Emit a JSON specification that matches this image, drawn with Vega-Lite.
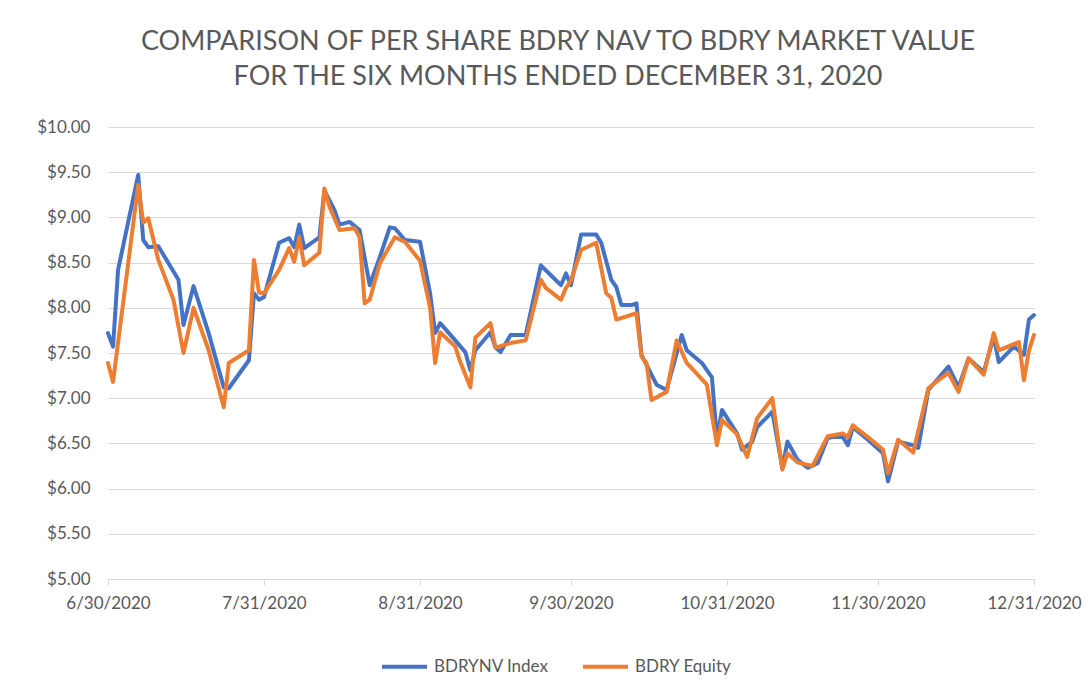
{
  "$schema": "https://vega.github.io/schema/vega-lite/v6.json",
  "width": 926,
  "height": 452,
  "autosize": {"type": "none"},
  "padding": {"left": 108, "top": 127, "right": 57, "bottom": 119},
  "background": "#ffffff",
  "config": {
    "font": "Lato",
    "view": {"stroke": null},
    "axis": {"labelFont": "Lato", "labelColor": "#595959", "labelFontSize": 17}
  },
  "title": {
    "text": ["COMPARISON OF PER SHARE BDRY NAV TO BDRY MARKET VALUE", "FOR THE SIX MONTHS ENDED DECEMBER 31, 2020"],
    "font": "Lato",
    "fontSize": 27,
    "fontWeight": "normal",
    "color": "#595959",
    "lineHeight": 35,
    "anchor": "middle",
    "dx": -13,
    "offset": 27
  },
  "datasets": {
    "nav": [
      {"d":"2020-06-30","v":7.72},{"d":"2020-07-01","v":7.57},{"d":"2020-07-02","v":8.42},{"d":"2020-07-06","v":9.47},
      {"d":"2020-07-07","v":8.75},{"d":"2020-07-08","v":8.67},{"d":"2020-07-10","v":8.68},{"d":"2020-07-14","v":8.31},
      {"d":"2020-07-15","v":7.81},{"d":"2020-07-17","v":8.24},{"d":"2020-07-20","v":7.72},{"d":"2020-07-23","v":7.12},
      {"d":"2020-07-24","v":7.11},{"d":"2020-07-28","v":7.42},{"d":"2020-07-29","v":8.16},{"d":"2020-07-30","v":8.09},
      {"d":"2020-07-31","v":8.12},{"d":"2020-08-03","v":8.72},{"d":"2020-08-05","v":8.77},{"d":"2020-08-06","v":8.67},
      {"d":"2020-08-07","v":8.92},{"d":"2020-08-08","v":8.66},{"d":"2020-08-11","v":8.78},{"d":"2020-08-12","v":9.30},
      {"d":"2020-08-14","v":9.08},{"d":"2020-08-15","v":8.92},{"d":"2020-08-17","v":8.95},{"d":"2020-08-19","v":8.86},
      {"d":"2020-08-21","v":8.25},{"d":"2020-08-23","v":8.56},{"d":"2020-08-25","v":8.89},{"d":"2020-08-26","v":8.88},
      {"d":"2020-08-28","v":8.75},{"d":"2020-08-31","v":8.73},{"d":"2020-09-02","v":8.16},{"d":"2020-09-03","v":7.72},
      {"d":"2020-09-04","v":7.83},{"d":"2020-09-07","v":7.64},{"d":"2020-09-09","v":7.51},{"d":"2020-09-10","v":7.31},
      {"d":"2020-09-11","v":7.53},{"d":"2020-09-14","v":7.73},{"d":"2020-09-15","v":7.56},{"d":"2020-09-16","v":7.51},
      {"d":"2020-09-18","v":7.70},{"d":"2020-09-21","v":7.70},{"d":"2020-09-24","v":8.47},{"d":"2020-09-26","v":8.36},
      {"d":"2020-09-28","v":8.25},{"d":"2020-09-29","v":8.38},{"d":"2020-09-30","v":8.25},{"d":"2020-10-02","v":8.81},
      {"d":"2020-10-05","v":8.81},{"d":"2020-10-06","v":8.72},{"d":"2020-10-08","v":8.31},{"d":"2020-10-09","v":8.23},
      {"d":"2020-10-10","v":8.03},{"d":"2020-10-12","v":8.03},{"d":"2020-10-13","v":8.05},{"d":"2020-10-14","v":7.48},
      {"d":"2020-10-17","v":7.15},{"d":"2020-10-19","v":7.09},{"d":"2020-10-22","v":7.70},{"d":"2020-10-23","v":7.53},
      {"d":"2020-10-26","v":7.39},{"d":"2020-10-28","v":7.23},{"d":"2020-10-29","v":6.55},{"d":"2020-10-30","v":6.87},
      {"d":"2020-11-02","v":6.61},{"d":"2020-11-03","v":6.43},{"d":"2020-11-05","v":6.52},{"d":"2020-11-06","v":6.68},
      {"d":"2020-11-09","v":6.85},{"d":"2020-11-11","v":6.23},{"d":"2020-11-12","v":6.52},{"d":"2020-11-14","v":6.32},
      {"d":"2020-11-16","v":6.23},{"d":"2020-11-18","v":6.28},{"d":"2020-11-20","v":6.56},{"d":"2020-11-21","v":6.57},
      {"d":"2020-11-23","v":6.57},{"d":"2020-11-24","v":6.48},{"d":"2020-11-25","v":6.68},{"d":"2020-11-28","v":6.54},
      {"d":"2020-12-01","v":6.39},{"d":"2020-12-02","v":6.08},{"d":"2020-12-04","v":6.52},{"d":"2020-12-07","v":6.48},
      {"d":"2020-12-08","v":6.45},{"d":"2020-12-10","v":7.09},{"d":"2020-12-12","v":7.22},{"d":"2020-12-14","v":7.35},
      {"d":"2020-12-16","v":7.12},{"d":"2020-12-18","v":7.44},{"d":"2020-12-21","v":7.29},{"d":"2020-12-23","v":7.68},
      {"d":"2020-12-24","v":7.40},{"d":"2020-12-27","v":7.57},{"d":"2020-12-29","v":7.48},{"d":"2020-12-30","v":7.87},
      {"d":"2020-12-31","v":7.92}
    ],
    "equity": [
      {"d":"2020-06-30","v":7.39},{"d":"2020-07-01","v":7.18},{"d":"2020-07-03","v":8.05},{"d":"2020-07-06","v":9.36},
      {"d":"2020-07-07","v":8.94},{"d":"2020-07-08","v":8.99},{"d":"2020-07-10","v":8.53},{"d":"2020-07-13","v":8.09},
      {"d":"2020-07-15","v":7.50},{"d":"2020-07-17","v":8.00},{"d":"2020-07-20","v":7.53},{"d":"2020-07-23","v":6.90},
      {"d":"2020-07-24","v":7.39},{"d":"2020-07-28","v":7.53},{"d":"2020-07-29","v":8.53},{"d":"2020-07-30","v":8.17},
      {"d":"2020-07-31","v":8.16},{"d":"2020-08-03","v":8.42},{"d":"2020-08-05","v":8.66},{"d":"2020-08-06","v":8.51},
      {"d":"2020-08-07","v":8.78},{"d":"2020-08-08","v":8.47},{"d":"2020-08-11","v":8.61},{"d":"2020-08-12","v":9.32},
      {"d":"2020-08-13","v":9.12},{"d":"2020-08-15","v":8.86},{"d":"2020-08-18","v":8.88},{"d":"2020-08-19","v":8.78},
      {"d":"2020-08-20","v":8.05},{"d":"2020-08-21","v":8.09},{"d":"2020-08-23","v":8.49},{"d":"2020-08-26","v":8.78},
      {"d":"2020-08-28","v":8.73},{"d":"2020-08-31","v":8.52},{"d":"2020-09-02","v":8.00},{"d":"2020-09-03","v":7.39},
      {"d":"2020-09-04","v":7.73},{"d":"2020-09-07","v":7.57},{"d":"2020-09-08","v":7.40},{"d":"2020-09-10","v":7.12},
      {"d":"2020-09-11","v":7.67},{"d":"2020-09-14","v":7.83},{"d":"2020-09-15","v":7.56},{"d":"2020-09-18","v":7.61},
      {"d":"2020-09-21","v":7.64},{"d":"2020-09-24","v":8.31},{"d":"2020-09-25","v":8.22},{"d":"2020-09-28","v":8.09},
      {"d":"2020-09-29","v":8.22},{"d":"2020-09-30","v":8.30},{"d":"2020-10-02","v":8.64},{"d":"2020-10-05","v":8.72},
      {"d":"2020-10-07","v":8.16},{"d":"2020-10-08","v":8.11},{"d":"2020-10-09","v":7.87},{"d":"2020-10-13","v":7.94},
      {"d":"2020-10-14","v":7.46},{"d":"2020-10-15","v":7.39},{"d":"2020-10-16","v":6.98},{"d":"2020-10-19","v":7.07},
      {"d":"2020-10-21","v":7.64},{"d":"2020-10-23","v":7.39},{"d":"2020-10-27","v":7.15},{"d":"2020-10-29","v":6.48},
      {"d":"2020-10-30","v":6.76},{"d":"2020-11-02","v":6.60},{"d":"2020-11-04","v":6.35},{"d":"2020-11-06","v":6.78},
      {"d":"2020-11-09","v":7.00},{"d":"2020-11-11","v":6.21},{"d":"2020-11-12","v":6.39},{"d":"2020-11-14","v":6.29},
      {"d":"2020-11-17","v":6.25},{"d":"2020-11-20","v":6.58},{"d":"2020-11-23","v":6.61},{"d":"2020-11-24","v":6.57},
      {"d":"2020-11-25","v":6.70},{"d":"2020-11-28","v":6.57},{"d":"2020-12-01","v":6.43},{"d":"2020-12-02","v":6.17},
      {"d":"2020-12-04","v":6.54},{"d":"2020-12-07","v":6.40},{"d":"2020-12-10","v":7.11},{"d":"2020-12-12","v":7.20},
      {"d":"2020-12-14","v":7.28},{"d":"2020-12-16","v":7.07},{"d":"2020-12-18","v":7.44},{"d":"2020-12-21","v":7.26},
      {"d":"2020-12-23","v":7.72},{"d":"2020-12-24","v":7.53},{"d":"2020-12-28","v":7.62},{"d":"2020-12-29","v":7.20},
      {"d":"2020-12-30","v":7.53},{"d":"2020-12-31","v":7.70}
    ]
  },
  "encoding": {
    "x": {
      "field": "d",
      "type": "temporal",
      "scale": {
        "type": "utc",
        "domain": [{"year": 2020, "month": 6, "date": 30, "utc": true}, {"year": 2020, "month": 12, "date": 31, "utc": true}]
      },
      "axis": {
        "title": null,
        "values": [
          {"year": 2020, "month": 6, "date": 30, "utc": true},
          {"year": 2020, "month": 7, "date": 31, "utc": true},
          {"year": 2020, "month": 8, "date": 31, "utc": true},
          {"year": 2020, "month": 9, "date": 30, "utc": true},
          {"year": 2020, "month": 10, "date": 31, "utc": true},
          {"year": 2020, "month": 11, "date": 30, "utc": true},
          {"year": 2020, "month": 12, "date": 31, "utc": true}
        ],
        "format": "%-m/%-d/%Y",
        "grid": false,
        "domainColor": "#d9d9d9",
        "tickColor": "#d9d9d9",
        "tickSize": 6,
        "labelPadding": 10,
        "labelOverlap": false,
        "labelBound": false,
        "labelFlush": false
      }
    },
    "y": {
      "field": "v",
      "type": "quantitative",
      "scale": {"domain": [5, 10], "nice": false, "zero": false},
      "axis": {
        "title": null,
        "values": [5, 5.5, 6, 6.5, 7, 7.5, 8, 8.5, 9, 9.5, 10],
        "format": "$.2f",
        "domain": false,
        "ticks": false,
        "labelPadding": 18,
        "grid": true,
        "gridColor": "#d9d9d9",
        "gridWidth": 1
      }
    }
  },
  "layer": [
    {
      "data": {"name": "nav"},
      "mark": {"type": "line", "strokeWidth": 4, "strokeJoin": "round", "strokeCap": "round"},
      "encoding": {
        "color": {
          "datum": "BDRYNV Index",
          "type": "nominal",
          "scale": {"domain": ["BDRYNV Index", "BDRY Equity"], "range": ["#4472C4", "#ED7D31"]},
          "legend": {
            "title": null,
            "orient": "none",
            "legendX": 272,
            "legendY": 515,
            "direction": "horizontal",
            "symbolType": "stroke",
            "symbolSize": 2025,
            "symbolStrokeWidth": 4,
            "labelFont": "Lato",
            "labelFontSize": 17,
            "labelColor": "#595959",
            "labelOffset": 5,
            "columnPadding": 26
          }
        }
      }
    },
    {
      "data": {"name": "equity"},
      "mark": {"type": "line", "strokeWidth": 4, "strokeJoin": "round", "strokeCap": "round"},
      "encoding": {
        "color": {"datum": "BDRY Equity", "type": "nominal"}
      }
    }
  ]
}
